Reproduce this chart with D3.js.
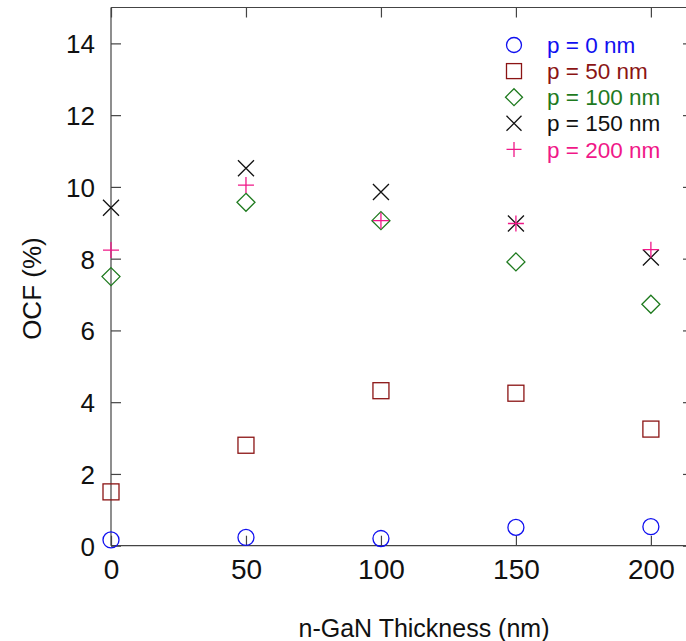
<!DOCTYPE html>
<html>
<head>
<meta charset="utf-8">
<script src="https://cdn.jsdelivr.net/npm/d3@7"></script>
<style>
  html, body { margin: 0; padding: 0; background: #fff; }
  svg { display: block; font-family: "Liberation Sans", Arial, Helvetica, sans-serif; }
</style>
</head>
<body>
<svg id="chart" width="686" height="641"></svg>
<script>
// ---- data ----
const thickness = [0, 50, 100, 150, 200];
const seriesNames = ["p = 0 nm", "p = 50 nm", "p = 100 nm", "p = 150 nm", "p = 200 nm"];
const p0   = [0.16, 0.23, 0.20, 0.51, 0.53];
const p50  = [1.50, 2.80, 4.32, 4.25, 3.25];
const p100 = [7.50, 9.57, 9.06, 7.91, 6.73];
const p150 = [9.42, 10.52, 9.86, 8.98, 8.03];
const p200 = [8.24, 10.05, 9.06, 8.98, 8.25];
const xTicks = [0, 50, 100, 150, 200];
const yTicks = [0, 2, 4, 6, 8, 10, 12, 14];
const xTitle = "n-GaN Thickness (nm)";
const yTitle = "OCF (%)";

const seriesValues = [p0, p50, p100, p150, p200];
const symbols = ["circle", "square", "diamond", "cross", "plus"];
const colors = ["#1010f0", "#8b1414", "#1e7a1e", "#111111", "#f01888"];

// ---- layout ----
const svg = d3.select("#chart");
const pL = 111, pT = 7.5, pR = 693, pB = 545.7;
const x = d3.scaleLinear().domain([0, 215.6]).range([pL, pR]);
const y = d3.scaleLinear().domain([0, 15]).range([pB, pT]);
const tickLen = 10;
const axisColor = "#444";

// border lines (left, bottom, top)
const g = svg.append("g").attr("stroke", axisColor).attr("stroke-width", 1.2).attr("fill", "none");
g.append("line").attr("x1", pL).attr("x2", pL).attr("y1", pT).attr("y2", pB);
g.append("line").attr("x1", pL).attr("x2", pR).attr("y1", pB).attr("y2", pB);
g.append("line").attr("x1", pL).attr("x2", pR).attr("y1", pT).attr("y2", pT);

// axes via d3 axis generators
const axB = svg.append("g").attr("transform", `translate(0,${pB})`)
  .call(d3.axisBottom(x).tickValues(xTicks).tickSize(-tickLen).tickFormat(d3.format("d")));
const axT = svg.append("g").attr("transform", `translate(0,${pT})`)
  .call(d3.axisTop(x).tickValues(xTicks).tickSize(-tickLen).tickFormat(""));
const axL = svg.append("g").attr("transform", `translate(${pL},0)`)
  .call(d3.axisLeft(y).tickValues(yTicks).tickSize(-tickLen).tickPadding(16).tickFormat(d3.format("d")));
const axR = svg.append("g").attr("transform", `translate(${pR},0)`)
  .call(d3.axisRight(y).tickValues(yTicks).tickSize(-tickLen).tickFormat(""));

[axB, axT, axL, axR].forEach(a => {
  a.select(".domain").remove();
  a.selectAll(".tick line").attr("stroke", axisColor).attr("stroke-width", 1.2);
  a.selectAll(".tick text").attr("fill", "#111").attr("font-size", 26)
    .attr("font-family", "'Liberation Sans', Arial, sans-serif");
});
axB.selectAll(".tick text").attr("font-size", 28).attr("y", 33).attr("dy", "0");
axL.selectAll(".tick text").attr("dy", "0.36em");

// axis titles
svg.append("text").attr("x", 424).attr("y", 637).attr("text-anchor", "middle")
  .attr("font-size", 25).attr("fill", "#111").text(xTitle);
svg.append("text").attr("transform", `translate(41,${(pT + pB) / 2 + 12}) rotate(-90)`)
  .attr("text-anchor", "middle").attr("font-size", 26).attr("fill", "#111").text(yTitle);

// marker drawing
function drawMarker(sel, type, color, r) {
  const s = sel.append("g").attr("fill", "none").attr("stroke", color).attr("stroke-width", 1.3);
  if (type === "circle") s.append("circle").attr("r", r);
  else if (type === "square") s.append("rect").attr("x", -r).attr("y", -r).attr("width", 2 * r).attr("height", 2 * r);
  else if (type === "diamond") s.append("path").attr("d", `M0,${-r - 1}L${r + 1},0L0,${r + 1}L${-r - 1},0Z`);
  else if (type === "cross") s.append("path").attr("d", `M${-r},${-r}L${r},${r}M${-r},${r}L${r},${-r}`);
  else if (type === "plus") s.append("path").attr("d", `M${-r},0L${r},0M0,${-r}L0,${r}`);
}

// points
seriesValues.forEach((vals, i) => {
  vals.forEach((v, j) => {
    const pt = svg.append("g").attr("transform", `translate(${x(thickness[j])},${y(v)})`);
    drawMarker(pt, symbols[i], colors[i], 8);
  });
});

// legend
const legX = 514, legTextX = 547, legY0 = 45, legStep = 26.1;
seriesNames.forEach((name, i) => {
  const ly = legY0 + i * legStep;
  const m = svg.append("g").attr("transform", `translate(${legX},${ly})`);
  drawMarker(m, symbols[i], colors[i], 7.5);
  svg.append("text").attr("x", legTextX).attr("y", ly).attr("dy", "0.36em")
    .attr("font-size", 22.5).attr("fill", colors[i]).text(name);
});
</script>
</body>
</html>
